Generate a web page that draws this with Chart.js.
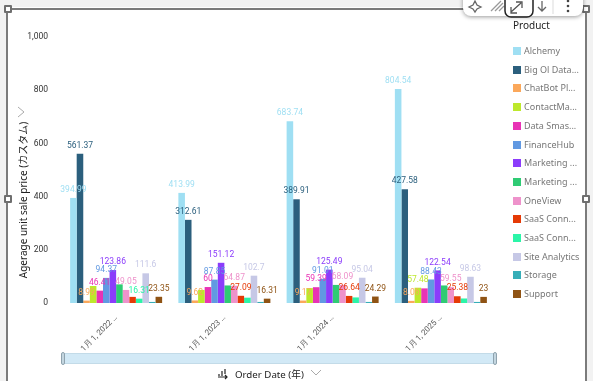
<!DOCTYPE html>
<html>
<head>
<meta charset="utf-8">
<script src="https://cdn.jsdelivr.net/npm/chart.js@4"></script>
<style>
    html, body { margin: 0; padding: 0; background: #fff; }
    body { width: 593px; height: 381px; overflow: hidden; position: relative; font-family: "Noto Sans", "Noto Sans CJK JP", sans-serif; }
    canvas { position: absolute; left: 0; top: 0; }
    .abs { position: absolute; }
    .side { background: #f2f2f2; top: 0; bottom: 0; }
    .frame { background: #7b7b7b; }
    .handle { position: absolute; width: 4px; height: 4px; background: #fff; border: 2px solid #6f6f6f; border-radius: 1px; }
    #toolbar { left: 463px; top: -10px; width: 120px; height: 26px; background: #fff; border-radius: 8px; box-shadow: 0 1px 4px rgba(0,0,0,0.4); }
    #legendTitle { left: 513px; top: 18px; font-size: 10px; color: #222; }
    .legendRow { position: absolute; left: 513px; height: 12px; font-size: 9px; line-height: 12px; color: #777; white-space: nowrap; }
    .legendRow i { position: absolute; left: 0; top: 2px; width: 8px; height: 8px; }
    .legendRow span { position: absolute; left: 11px; top: 0; }
    #yTitle { left: 22px; top: 200px; transform: translate(-50%, -50%) rotate(-90deg); font-size: 10px; color: #222; white-space: nowrap; }
    #slider { left: 62px; top: 353px; width: 434px; height: 11px; background: #d2e9f6; border-top: 1px solid #c3dbe8; border-bottom: 1px solid #c3dbe8; box-sizing: border-box; }
    .grip { position: absolute; top: 352px; width: 2px; height: 11px; background: #c4d6e0; border: 1px solid #8fa3ae; border-radius: 2px; }
    #xTitle { left: 235px; top: 367px; font-size: 9.7px; color: #222; white-space: nowrap; }
</style>
</head>
<body>
<canvas id="chart" width="593" height="381"></canvas>

<div class="abs side" style="left:0;width:7px"></div>
<div class="abs side" style="left:587px;width:6px"></div>
<div class="abs" style="left:0;top:0;width:593px;height:7px;background:#f2f2f2"></div>
<div class="abs frame" style="left:6px;top:8px;width:2px;height:373px"></div>
<div class="abs frame" style="left:585px;top:8px;width:2px;height:373px"></div>
<div class="abs frame" style="left:6px;top:8px;width:581px;height:2px"></div>
<div class="handle" style="left:4px;top:5px"></div>
<div class="handle" style="left:4px;top:195px"></div>
<div class="handle" style="left:582px;top:5px"></div>
<div class="handle" style="left:582px;top:195px"></div>

<div class="abs" id="toolbar"></div>
<svg class="abs" style="left:463px;top:0" width="120" height="20" fill="none" stroke="#666" stroke-width="1.3">
    <path d="M12 1 L14 5 L18 7 L14 9 L12 12 L10 9 L6 7 L10 5 Z"/>
    <path d="M28 11 L38 1 M32 11 L40 3 M36 11 L41 6" stroke="#999"/>
    <path d="M48 12 L58 3 M53 2 L59 2 L59 8 M48 7 L48 13 L54 13" stroke="#555"/>
    <rect x="42" y="-6" width="28" height="23" rx="6" stroke="#222" stroke-width="1.5"/>
    <path d="M79 1 L79 11 M75 7 L79 11 L83 7"/>
    <line x1="90" y1="0" x2="90" y2="14" stroke="#e4e4e4"/>
    <circle cx="105" cy="1" r="1.3" fill="#444" stroke="none"/>
    <circle cx="105" cy="6" r="1.3" fill="#444" stroke="none"/>
    <circle cx="105" cy="11" r="1.3" fill="#444" stroke="none"/>
</svg>

<div class="abs" id="legendTitle">Product</div>
<div id="legend"></div>

<div class="abs" id="yTitle">Agerage unit sale price (カスタム)</div>
<svg class="abs" style="left:16px;top:106px" width="12" height="12" fill="none" stroke="#aaa" stroke-width="1"><path d="M2 1 L8 6 L2 11"/></svg>

<div class="abs" id="slider"></div>
<div class="grip" style="left:61px"></div>
<div class="grip" style="left:493px"></div>

<svg class="abs" style="left:217px;top:368px" width="12" height="12" fill="none" stroke="#222" stroke-width="1.2"><path d="M1 9 L10 9 M8 7 L10 9 L8 11 M2 8 L2 6 M5 8 L5 3 M8 6 L8 1"/></svg>
<div class="abs" id="xTitle">Order Date (年)</div>
<svg class="abs" style="left:310px;top:369px" width="12" height="8" fill="none" stroke="#aaa" stroke-width="1"><path d="M1 1 L6 6 L11 1"/></svg>

<script>
const categories = ['1月 1, 2022 …', '1月 1, 2023 …', '1月 1, 2024 …', '1月 1, 2025 …'];
const products = ['Alchemy', 'Big Ol Data...', 'ChatBot Pl...', 'ContactMa...', 'Data Smas...', 'FinanceHub', 'Marketing ...', 'Marketing ...', 'OneView', 'SaaS Conn...', 'SaaS Conn...', 'Site Analytics', 'Storage', 'Support'];
const colors = ['#9fdff3', '#2b5f7d', '#fba85b', '#bde82c', '#e833b5', '#6199e2', '#8b3cfb', '#2fcb74', '#ee92cb', '#e53a06', '#2bf5a8', '#c6c8e6', '#36aeb8', '#8f5314'];

const alchemy = [394.99, 413.99, 683.74, 804.54];
const bigOlData = [561.37, 312.61, 389.91, 427.58];
const chatBot = [8.99, 9.62, 9.17, 8.06];
const contactMa = [64, 49, 56, 57.48];
const dataSmash = [46.41, 60, 59.39, 55];
const financeHub = [94.37, 87.85, 91.01, 88.43];
const marketingA = [123.86, 151.12, 125.49, 122.54];
const marketingB = [70, 66, 68, 66];
const oneView = [49.05, 64.87, 68.09, 59.55];
const saasA = [23, 27.09, 26.64, 25.38];
const saasB = [16.31, 20, 21, 17];
const siteAnalytics = [111.6, 102.7, 95.04, 98.63];
const storage = [4, 4, 4, 4];
const support = [23.35, 16.31, 24.29, 23];

const seriesValues = [alchemy, bigOlData, chatBot, contactMa, dataSmash, financeHub, marketingA, marketingB, oneView, saasA, saasB, siteAnalytics, storage, support];

// which value labels the reference actually shows, series by series
const shownLabels = [
    [1, 1, 1, 1], [1, 1, 1, 1], [1, 1, 1, 1], [0, 0, 0, 1], [1, 1, 1, 0], [1, 1, 1, 1], [1, 1, 1, 1],
    [0, 0, 0, 0], [1, 1, 1, 1], [0, 1, 1, 1], [1, 0, 0, 0], [1, 1, 1, 1], [0, 0, 0, 0], [1, 1, 1, 1]
];
const yTicks = [0, 200, 400, 600, 800, 1000];

// legend rows
const legendBox = document.getElementById('legend');
products.forEach((name, i) => {
    const row = document.createElement('div');
    row.className = 'legendRow';
    row.style.top = (45 + i * 18.7) + 'px';
    row.innerHTML = '<i style="background:' + colors[i] + '"></i><span>' + name + '</span>';
    legendBox.appendChild(row);
});

// value labels over the bars
const valueLabels = {
    id: 'valueLabels',
    afterDatasetsDraw(chart) {
        const ctx = chart.ctx;
        ctx.save();
        ctx.font = '8.5px Roboto, sans-serif';
        ctx.textAlign = 'center';
        ctx.textBaseline = 'middle';
        chart.data.datasets.forEach((ds, i) => {
            chart.getDatasetMeta(i).data.forEach((bar, j) => {
                if (!shownLabels[i][j]) return;
                ctx.fillStyle = ds.backgroundColor;
                ctx.fillText(String(ds.data[j]), bar.x, bar.y - 8);
            });
        });
        ctx.restore();
    }
};

new Chart(document.getElementById('chart'), {
    type: 'bar',
    plugins: [valueLabels],
    data: {
        labels: categories,
        datasets: products.map((name, i) => ({
            label: name,
            data: seriesValues[i],
            backgroundColor: colors[i],
            borderWidth: 0
        }))
    },
    options: {
        responsive: false,
        animation: false,
        layout: { padding: { top: 37, right: 98, left: 0, bottom: 0 } },
        plugins: { legend: { display: false }, tooltip: { enabled: false } },
        datasets: { bar: { categoryPercentage: 0.85, barPercentage: 1 } },
        scales: {
            x: {
                grid: { display: false },
                border: { display: false },
                ticks: { color: '#555', font: { family: 'Roboto', size: 8 }, minRotation: 45, maxRotation: 45, padding: 2, autoSkip: false },
                afterFit: scale => { scale.height = 78; }
            },
            y: {
                min: 0,
                max: 1000,
                grid: { display: false },
                border: { display: false },
                afterBuildTicks: scale => { scale.ticks = yTicks.map(v => ({ value: v })); },
                ticks: {
                    color: '#333',
                    font: { family: 'Roboto', size: 8.5 },
                    padding: 6,
                    callback: v => v.toLocaleString('en-US')
                },
                afterFit: scale => { scale.width = 62; }
            }
        }
    }
});
</script>
</body>
</html>
